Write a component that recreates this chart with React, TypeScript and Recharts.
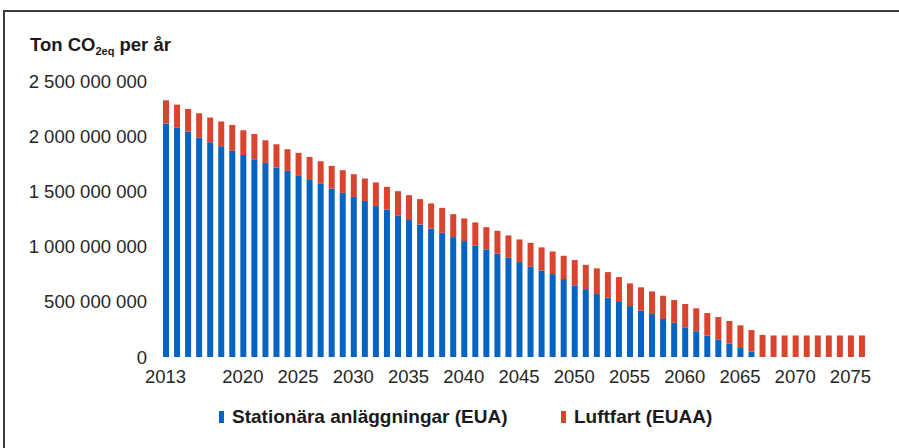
import { BarChart, Bar, XAxis, YAxis } from 'recharts';

const FONT = '"Liberation Sans", Arial, sans-serif';

const years = [
  2013, 2014, 2015, 2016, 2017, 2018, 2019, 2020, 2021, 2022,
  2023, 2024, 2025, 2026, 2027, 2028, 2029, 2030, 2031, 2032,
  2033, 2034, 2035, 2036, 2037, 2038, 2039, 2040, 2041, 2042,
  2043, 2044, 2045, 2046, 2047, 2048, 2049, 2050, 2051, 2052,
  2053, 2054, 2055, 2056, 2057, 2058, 2059, 2060, 2061, 2062,
  2063, 2064, 2065, 2066, 2067, 2068, 2069, 2070, 2071, 2072,
  2073, 2074, 2075, 2076,
];

// miljoner ton
const stationary = [
  2115, 2078, 2042, 1988, 1945, 1909, 1867, 1830, 1792, 1758,
  1716, 1686, 1640, 1604, 1568, 1526, 1487, 1450, 1412, 1369,
  1336, 1279, 1240, 1201, 1164, 1125, 1086, 1050, 1007, 975,
  935, 898, 860, 817, 784, 751, 706, 649, 615, 570,
  537, 498, 461, 419, 389, 344, 310, 269, 233, 193,
  157, 120, 81, 48, 0, 0, 0, 0, 0, 0,
  0, 0, 0, 0,
];

const aviation = [
  210, 208, 205, 220, 224, 224, 235, 224, 228, 205,
  211, 196, 209, 208, 205, 205, 205, 206, 205, 212,
  205, 223, 226, 229, 227, 226, 208, 205, 212, 201,
  208, 203, 205, 217, 209, 205, 211, 229, 220, 233,
  232, 226, 206, 212, 205, 211, 206, 211, 208, 205,
  205, 206, 206, 196, 200, 195, 195, 195, 195, 195,
  195, 195, 195, 195,
];

const tickYears = [2013, 2020, 2025, 2030, 2035, 2040, 2045, 2050, 2055, 2060, 2065, 2070, 2075];
const yTicks = [0, 500000000, 1000000000, 1500000000, 2000000000, 2500000000];

const series = [
  { key: 'eua', name: 'Stationära anläggningar (EUA)', color: '#0563C1', left: 219 },
  { key: 'euaa', name: 'Luftfart (EUAA)', color: '#D9442F', left: 561 },
];

const data = years.map((year, i) => ({
  year,
  eua: stationary[i] * 1e6,
  euaa: aviation[i] * 1e6,
}));

const fmt = (v: number) => String(v).replace(/\B(?=(\d{3})+(?!\d))/g, ' ');

export default function App() {
  const tick = { fill: '#262626', fontSize: 18.5, fontFamily: FONT };
  return (
    <div style={{ position: 'absolute', left: 0, top: 0, width: 899, height: 448, background: '#fff', overflow: 'hidden', fontFamily: FONT }}>
      <div style={{ position: 'absolute', left: 3, top: 10, right: -5, bottom: -5, borderTop: '2px solid #3c3c3c', borderLeft: '2px solid #3c3c3c' }} />
      <div style={{ position: 'absolute', left: 0, top: 0 }}>
        <BarChart width={899} height={448} data={data} margin={{ top: 81, right: 32, bottom: 61, left: 0 }} barSize={6}>
          <XAxis
            dataKey="year"
            height={30}
            interval={0}
            axisLine={false}
            tickLine={false}
            tickSize={0}
            tickMargin={13}
            tick={tick}
            tickFormatter={(v: number) => (tickYears.includes(v) ? String(v) : '')}
          />
          <YAxis
            width={160}
            domain={[0, 2500000000]}
            ticks={yTicks}
            axisLine={false}
            tickLine={false}
            tickSize={0}
            tickMargin={13}
            tick={tick}
            tickFormatter={fmt}
          />
          {series.map((s) => (
            <Bar key={s.key} dataKey={s.key} name={s.name} stackId="a" fill={s.color} isAnimationActive={false} />
          ))}
        </BarChart>
      </div>
      <div style={{ position: 'absolute', left: 30, top: 35, lineHeight: '20px', fontSize: 18.5, fontWeight: 'bold', color: '#1a1a1a', whiteSpace: 'nowrap' }}>
        Ton CO<span style={{ fontSize: 11, position: 'relative', top: 4 }}>2eq</span> per år
      </div>
      {series.map((s) => (
        <div key={s.key} style={{ position: 'absolute', left: s.left, top: 407, display: 'flex', alignItems: 'center', fontSize: 19, fontWeight: 'bold', color: '#1a1a1a', whiteSpace: 'nowrap', lineHeight: '20px' }}>
          <span style={{ display: 'inline-block', width: 5, height: 12, background: s.color, marginRight: 8 }} />
          <span>{s.name}</span>
        </div>
      ))}
    </div>
  );
}
